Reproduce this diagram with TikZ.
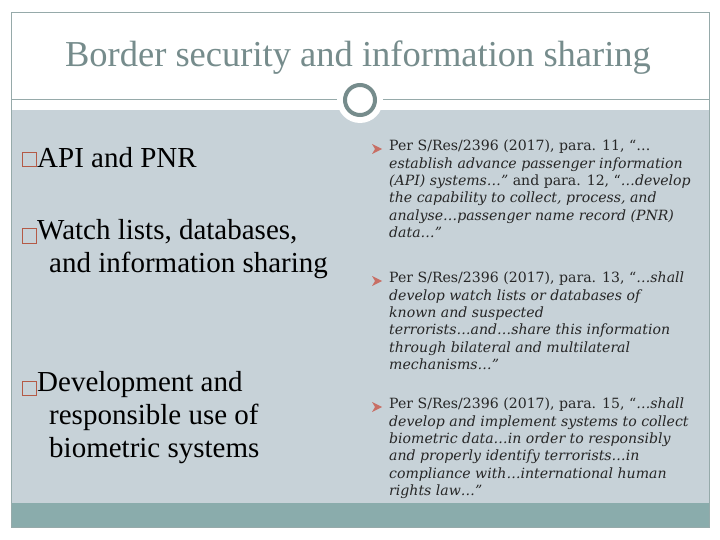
\documentclass[tikz,border=0pt]{standalone}
\usepackage{fontspec}
\setmainfont{Liberation Serif}
\newfontfamily\rtfont{DejaVu Serif}
\definecolor{teal}{RGB}{138,172,172}
\definecolor{bodyg}{RGB}{199,210,216}
\definecolor{titlec}{RGB}{118,140,140}
\definecolor{framec}{RGB}{150,170,170}
\definecolor{boxc}{RGB}{180,90,70}
\definecolor{arrc}{RGB}{200,110,100}
\tikzset{
 lefttxt/.style={anchor=north west,align=left,font=\fontsize{29}{33}\selectfont,inner sep=0pt},
 righttxt/.style={anchor=north west,align=left,font=\rtfont\fontsize{14.1}{17.3}\selectfont,inner sep=0pt,text=black!85},
 bul/.style={draw=boxc,line width=1pt,minimum size=14pt,inner sep=0pt},
 arrmark/.pic={\fill[arrc] (0,-5) -- (10,0) -- (0,5) -- (3,0) -- cycle;}
}
\begin{document}
\begin{tikzpicture}[x=1pt,y=-1pt]
\useasboundingbox (0,0) rectangle (720,540);
\fill[white] (0,0) rectangle (720,540);
\fill[bodyg] (11,110) rectangle (709,503);
\fill[teal] (11,503) rectangle (709,527);
\draw[framec,line width=0.8pt] (11,12) rectangle (709,527);
\draw[framec,line width=0.8pt] (11,99) -- (709,99);
\node[circle,fill=white,minimum size=46pt,inner sep=0pt] (cw) at (360,100) {};
\node[circle,draw=titlec,line width=4pt,minimum size=30pt,inner sep=0pt] (c) at (360,100) {};
\node[anchor=center,text=titlec,font=\fontsize{36.5}{40}\selectfont,inner sep=0pt] (title) at (358,58) {Border security and information sharing};
% left bullets
\node[bul] (b1) at (29,160) {};
\node[lefttxt,anchor=west] (l1) at (37,158) {API and PNR};
\node[bul] (b2) at (29,236) {};
\node[lefttxt] (l2) at (37,219) {Watch lists, databases,\\\hspace*{12pt}and information sharing};
\node[bul] (b3) at (29,388) {};
\node[lefttxt] (l3) at (37,371) {Development and\\\hspace*{12pt}responsible use of\\\hspace*{12pt}biometric systems};
% right
\pic at (372,149) {arrmark};
\node[righttxt] (r1) at (389,140) {Per S/Res/2396 (2017), para. 11, “…\\\itshape establish advance passenger information\\\itshape (API) systems…” \upshape and para. 12, “\itshape …develop\\\itshape the capability to collect, process, and\\\itshape analyse…passenger name record (PNR)\\\itshape data…”};
\pic at (372,281) {arrmark};
\node[righttxt] (r2) at (389,272) {Per S/Res/2396 (2017), para. 13, “\itshape …shall\\\itshape develop watch lists or databases of\\\itshape known and suspected\\\itshape terrorists…and…share this information\\\itshape through bilateral and multilateral\\\itshape mechanisms…”};
\pic at (372,407) {arrmark};
\node[righttxt] (r3) at (389,398) {Per S/Res/2396 (2017), para. 15, “\itshape …shall\\\itshape develop and implement systems to collect\\\itshape biometric data…in order to responsibly\\\itshape and properly identify terrorists…in\\\itshape compliance with…international human\\\itshape rights law…”};
\end{tikzpicture}
\end{document}
